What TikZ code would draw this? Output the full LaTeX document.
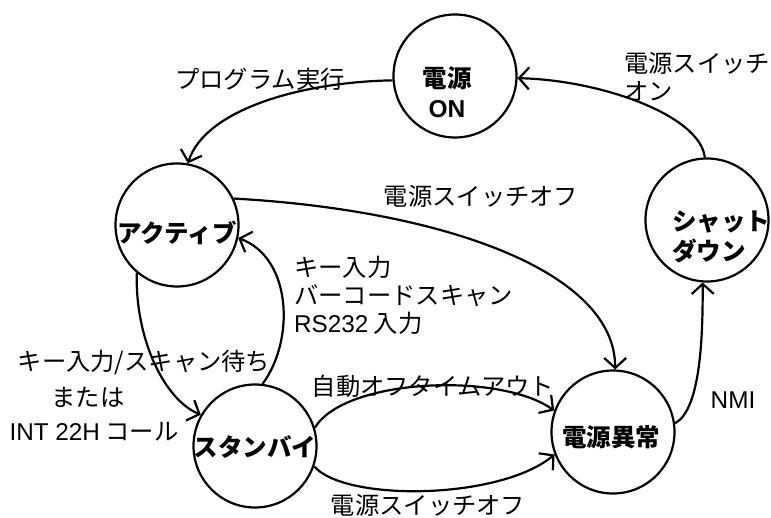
\documentclass[tikz,border=0pt]{standalone}
\usepackage{fontspec}
\setmainfont{Noto Sans CJK JP}
\newfontfamily\lat{Liberation Sans}
\usetikzlibrary{arrows.meta}
\begin{document}
\begin{tikzpicture}[x=1pt,y=-1pt,
  state/.style={circle,draw,line width=2.2pt,minimum size=123pt,inner sep=0pt},
  stxt/.style={font=\fontsize{24.5}{30}\selectfont\bfseries,align=center,inner sep=0pt},
  ltxt/.style={font=\fontsize{24.3}{28}\selectfont,inner sep=0pt},
  edge/.style={line width=2.2pt,-{Straight Barb[length=10pt,width=22pt,line width=2.2pt]}}]
\useasboundingbox[fill=white] (0,0) rectangle (771,518);
% states
\node[state] (on)  at (455,76)  {};
\node[state] (act) at (177,225) {};
\node[state] (sby) at (255,446) {};
\node[state] (err) at (613,432) {};
\node[state] (sd)  at (707,220) {};
% state texts
\node[stxt] (tOn)  at (447,92)  {電源\\{\lat\bfseries ON}};
\node[stxt] (tAct) at (177,233) {アクティブ};
\node[stxt] (tSby) at (255,447) {スタンバイ};
\node[stxt] (tErr) at (611,437) {電源異常};
\node[stxt,align=left,anchor=west] (tSd) at (672,237) {シャット\\ダウン};
% edges
\draw[edge] (on.184) .. controls (300,82) and (205,110) .. (act.80);
\draw[edge] (sd.92) .. controls (700,115) and (600,80) .. (on.358);
\draw[edge] (act.25) .. controls (440,210) and (615,270) .. (err.88);
\draw[edge] (sby.83) .. controls (295,340) and (292,258) .. (act.-12);
\draw[edge] (act.230) .. controls (135,340) and (165,400) .. (sby.150);
\draw[edge] (sby.17) .. controls (345,378) and (500,372) .. (err.160);
\draw[edge] (sby.-19) .. controls (345,502) and (500,500) .. (err.201);
\draw[edge] (err.8) .. controls (700,410) and (703,340) .. (sd.266);
% edge labels
\node[ltxt] (l1) at (260,79) {プログラム実行};
\node[ltxt,align=left,anchor=west] (l2) at (624,77) {電源スイッチ\\オン};
\node[ltxt] (l3) at (481,196) {電源スイッチオフ};
\node[ltxt,align=left,anchor=west] (l4) at (294,295) {キー入力\\バーコードスキャン\\{\lat RS232}\ 入力};
\node[ltxt] (l5a) at (144,362) {キー入力/スキャン待ち};
\node[ltxt] (l5b) at (88,397) {または};
\node[ltxt] (l5c) at (94,432) {{\lat INT 22H} コール};
\node[ltxt] (l6) at (433,386) {自動オフタイムアウト};
\node[ltxt] (l7) at (428,505) {電源スイッチオフ};
\node[ltxt] (l8) at (733,400) {\lat NMI};
\end{tikzpicture}
\end{document}
